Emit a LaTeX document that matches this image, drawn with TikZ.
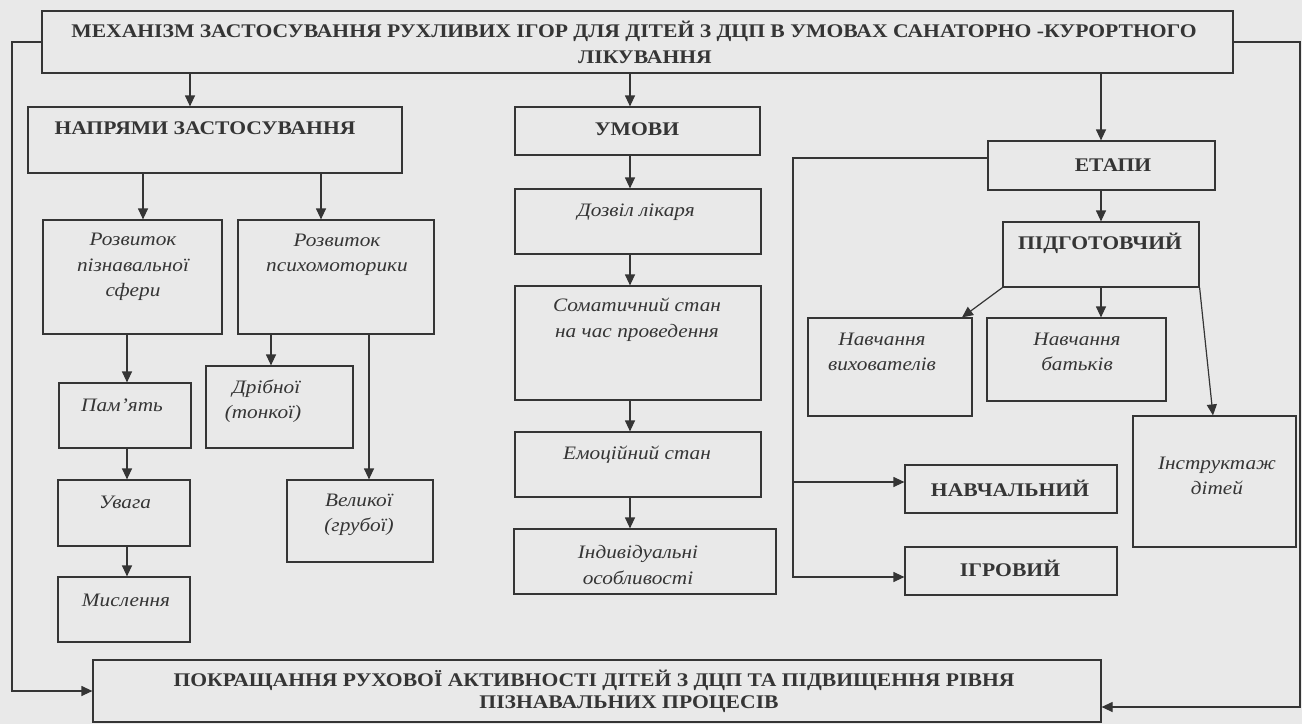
\documentclass[tikz,border=0pt]{standalone}
\usepackage{fontspec}
\setmainfont{Liberation Serif}
\newfontfamily\wideserif[FakeStretch=1.12]{Liberation Serif}
\usetikzlibrary{arrows.meta,fit}
\definecolor{bg}{HTML}{E9E9E9}
\definecolor{ink}{HTML}{353535}
\tikzset{
 box/.style={draw=ink, line width=1.2pt, inner sep=0pt},
 captxt/.style={font=\wideserif\fontsize{19.3}{25}\selectfont\bfseries, text=ink, inner sep=0pt},
 itl/.style={font=\wideserif\fontsize{19}{25.5}\selectfont\itshape, text=ink, inner sep=0pt, align=center},
 arr/.style={draw=ink, line width=1.2pt, -{Triangle[length=11pt,width=10pt]}},
 ln/.style={draw=ink, line width=1.2pt},
}
\begin{document}
\begin{tikzpicture}[x=1pt,y=-1pt]
\fill[bg] (0,0) rectangle (1302,724);
\useasboundingbox (0,0) rectangle (1302,724);
% boxes
\node[box, fit={(42,11)(1233,73)}] (title) {};
\node[box, fit={(28,107)(402,173)}] (napr) {};
\node[box, fit={(515,107)(760,155)}] (umovy) {};
\node[box, fit={(988,141)(1215,190)}] (etapy) {};
\node[box, fit={(43,220)(222,334)}] (rz1) {};
\node[box, fit={(238,220)(434,334)}] (rz2) {};
\node[box, fit={(59,383)(191,448)}] (pam) {};
\node[box, fit={(206,366)(353,448)}] (drib) {};
\node[box, fit={(58,480)(190,546)}] (uvaga) {};
\node[box, fit={(58,577)(190,642)}] (mysl) {};
\node[box, fit={(287,480)(433,562)}] (velyk) {};
\node[box, fit={(515,189)(761,254)}] (dozvil) {};
\node[box, fit={(515,286)(761,400)}] (somat) {};
\node[box, fit={(515,432)(761,497)}] (emoc) {};
\node[box, fit={(514,529)(776,594)}] (indyv) {};
\node[box, fit={(1003,222)(1199,287)}] (pidg) {};
\node[box, fit={(808,318)(972,416)}] (nvykh) {};
\node[box, fit={(987,318)(1166,401)}] (nbatk) {};
\node[box, fit={(1133,416)(1296,547)}] (instr) {};
\node[box, fit={(905,465)(1117,513)}] (navch) {};
\node[box, fit={(905,547)(1117,595)}] (igr) {};
\node[box, fit={(93,660)(1101,722)}] (bottom) {};
% texts
\node[captxt] (title-t1) at (634,31) {МЕХАНІЗМ ЗАСТОСУВАННЯ РУХЛИВИХ ІГОР ДЛЯ ДІТЕЙ З ДЦП В УМОВАХ САНАТОРНО -КУРОРТНОГО};
\node[captxt] (title-t2) at (645,57) {ЛІКУВАННЯ};
\node[captxt] (napr-t) at (205,128) {НАПРЯМИ ЗАСТОСУВАННЯ};
\node[captxt] (umovy-t) at (637,129) {УМОВИ};
\node[captxt] (etapy-t) at (1113,165) {ЕТАПИ};
\node[captxt] (pidg-t) at (1100,243) {ПІДГОТОВЧИЙ};
\node[captxt] (navch-t) at (1010,488) {НАВЧАЛЬНИЙ};
\node[captxt] (igr-t) at (1010,568) {ІГРОВИЙ};
\node[captxt] (bottom-t1) at (594,680) {ПОКРАЩАННЯ РУХОВОЇ АКТИВНОСТІ ДІТЕЙ З ДЦП ТА ПІДВИЩЕННЯ РІВНЯ};
\node[captxt] (bottom-t2) at (629,704) {ПІЗНАВАЛЬНИХ ПРОЦЕСІВ};
\node[itl] (rz1-t) at (133,267) {Розвиток\\пізнавальної\\сфери};
\node[itl] (rz2-t) at (337,255) {Розвиток\\психомоторики};
\node[itl] (pam-t) at (122,405) {Пам’ять};
\node[itl, align=left] (drib-t) at (263,401) {\hspace{0.4em}Дрібної\\(тонкої)};
\node[itl] (uvaga-t) at (125,502) {Увага};
\node[itl] (mysl-t) at (126,600) {Мислення};
\node[itl] (velyk-t) at (359,515) {Великої\\(грубої)};
\node[itl] (dozvil-t) at (636,212) {Дозвіл лікаря};
\node[itl] (somat-t) at (637,320) {Соматичний стан\\на час  проведення};
\node[itl] (emoc-t) at (637,455) {Емоційний стан};
\node[itl] (indyv-t) at (638,565) {Індивідуальні\\особливості};
\node[itl] (nvykh-t) at (882,352) {Навчання\\вихователів};
\node[itl] (nbatk-t) at (1077,352) {Навчання\\батьків};
\node[itl] (instr-t) at (1217,476) {Інструктаж\\дітей};
% connectors
\draw[arr] (190,0 |- title.south) -- (190,0 |- napr.north);
\draw[arr] (630,0 |- title.south) -- (630,0 |- umovy.north);
\draw[arr] (1101,0 |- title.south) -- (1101,0 |- etapy.north);
\draw[arr] (title.west) -- (12,0 |- title.west) |- (bottom.west);
\draw[arr] (title.east) -- (1300,0 |- title.east) |- (bottom.east |- 0,707);
\draw[arr] (143,0 |- napr.south) -- (143,0 |- rz1.north);
\draw[arr] (321,0 |- napr.south) -- (321,0 |- rz2.north);
\draw[arr] (127,0 |- rz1.south) -- (127,0 |- pam.north);
\draw[arr] (127,0 |- pam.south) -- (127,0 |- uvaga.north);
\draw[arr] (127,0 |- uvaga.south) -- (127,0 |- mysl.north);
\draw[arr] (271,0 |- rz2.south) -- (271,0 |- drib.north);
\draw[arr] (369,0 |- rz2.south) -- (369,0 |- velyk.north);
\draw[arr] (630,0 |- umovy.south) -- (630,0 |- dozvil.north);
\draw[arr] (630,0 |- dozvil.south) -- (630,0 |- somat.north);
\draw[arr] (630,0 |- somat.south) -- (630,0 |- emoc.north);
\draw[arr] (630,0 |- emoc.south) -- (630,0 |- indyv.north);
\draw[arr] (1101,0 |- etapy.south) -- (1101,0 |- pidg.north);
\draw[arr] (1101,0 |- pidg.south) -- (1101,0 |- nbatk.north);
\draw[arr] (pidg.south west) -- (962,0 |- nvykh.north);
\draw[arr] (pidg.south east) -- (1213,0 |- instr.north);
\draw[arr] (etapy.west |- 0,158) -- (793,158) |- (igr.west |- 0,577);
\draw[arr] (793,482) -- (navch.west |- 0,482);
\end{tikzpicture}
\end{document}
